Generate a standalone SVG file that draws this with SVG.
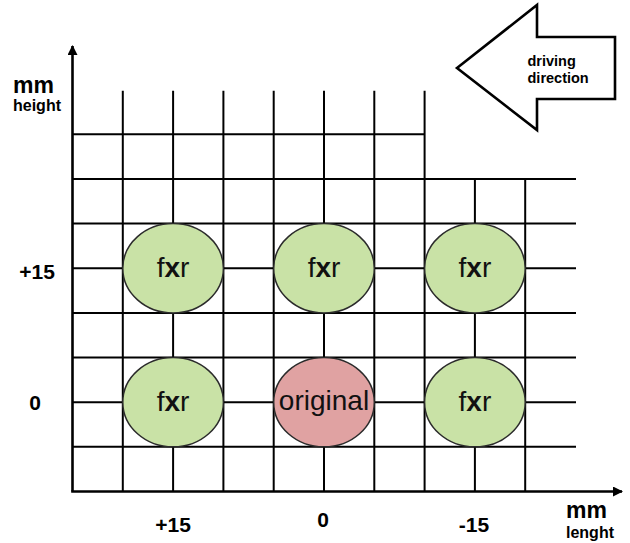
<svg xmlns="http://www.w3.org/2000/svg" width="630" height="543" viewBox="0 0 630 543">
<style>
.grid{stroke:#000;stroke-width:2;fill:none}
.axis{stroke:#000;stroke-width:2.6;fill:none}
.fxr{fill:#c9e2a6;stroke:#2b2b2b;stroke-width:1.5}
.orig{fill:#e0a2a2;stroke:#2b2b2b;stroke-width:1.5}
.nl{font-family:"Liberation Sans",Arial,sans-serif;font-size:28px;fill:#111;text-anchor:middle}
.lb{font-family:"Liberation Sans",Arial,sans-serif;font-weight:bold;fill:#000}
</style>
<defs>
<marker id="ah" markerWidth="10" markerHeight="10" refX="9" refY="5" orient="auto" markerUnits="userSpaceOnUse">
<path d="M0,0 L10,5 L0,10 Z" fill="#000"/>
</marker>
</defs>
<rect width="630" height="543" fill="#fff"/>
<g id="connectors">
<g id="grid" class="grid">
<line x1="72.5" y1="134.3" x2="424.6" y2="134.3"/>
<line x1="72.5" y1="178.95" x2="576" y2="178.95"/>
<line x1="72.5" y1="223.6" x2="576" y2="223.6"/>
<line x1="72.5" y1="268.25" x2="576" y2="268.25"/>
<line x1="72.5" y1="312.9" x2="576" y2="312.9"/>
<line x1="72.5" y1="357.55" x2="576" y2="357.55"/>
<line x1="72.5" y1="402.2" x2="576" y2="402.2"/>
<line x1="72.5" y1="446.85" x2="576" y2="446.85"/>
<line x1="122.8" y1="90.7" x2="122.8" y2="491.5"/>
<line x1="173.1" y1="90.7" x2="173.1" y2="491.5"/>
<line x1="223.4" y1="90.7" x2="223.4" y2="491.5"/>
<line x1="273.7" y1="90.7" x2="273.7" y2="491.5"/>
<line x1="324" y1="90.7" x2="324" y2="491.5"/>
<line x1="374.3" y1="90.7" x2="374.3" y2="491.5"/>
<line x1="424.6" y1="90.7" x2="424.6" y2="491.5"/>
<line x1="474.9" y1="178.95" x2="474.9" y2="491.5"/>
<line x1="525.2" y1="178.95" x2="525.2" y2="491.5"/>
</g>
<line id="y-axis" class="axis" x1="72.5" y1="491.5" x2="72.5" y2="46" marker-end="url(#ah)"/>
<line id="x-axis" class="axis" x1="71.2" y1="491.5" x2="622" y2="491.5" marker-end="url(#ah)"/>
</g>
<g id="node-fxr-1"><ellipse class="fxr" cx="173.1" cy="268.25" rx="50.3" ry="44.65"/><text class="nl" x="173.1" y="276.5">f<tspan font-weight="bold">x</tspan>r</text></g>
<g id="node-fxr-2"><ellipse class="fxr" cx="324" cy="268.25" rx="50.3" ry="44.65"/><text class="nl" x="324" y="276.5">f<tspan font-weight="bold">x</tspan>r</text></g>
<g id="node-fxr-3"><ellipse class="fxr" cx="474.9" cy="268.25" rx="50.3" ry="44.65"/><text class="nl" x="474.9" y="276.5">f<tspan font-weight="bold">x</tspan>r</text></g>
<g id="node-fxr-4"><ellipse class="fxr" cx="173.1" cy="402.2" rx="50.3" ry="44.65"/><text class="nl" x="173.1" y="410.5">f<tspan font-weight="bold">x</tspan>r</text></g>
<g id="node-original"><ellipse class="orig" cx="324" cy="402.2" rx="50.3" ry="44.65"/><text class="nl" x="324" y="410">original</text></g>
<g id="node-fxr-5"><ellipse class="fxr" cx="474.9" cy="402.2" rx="50.3" ry="44.65"/><text class="nl" x="474.9" y="410.5">f<tspan font-weight="bold">x</tspan>r</text></g>
<g id="driving-direction">
<polygon points="457,68 537,5 537,37 615,37 615,99 537,99 537,130" fill="#fff" stroke="#000" stroke-width="2.6" stroke-linejoin="miter"/>
<text class="lb" font-size="14.5" x="527.5" y="65.5">driving</text>
<text class="lb" font-size="14.5" x="527.5" y="82.5">direction</text>
</g>
<g id="axis-labels">
<text class="lb" font-size="23" x="13" y="93">mm</text>
<text class="lb" font-size="16" x="13" y="111">height</text>
<text class="lb" font-size="21" x="37" y="279" text-anchor="middle">+15</text>
<text class="lb" font-size="21" x="35" y="410" text-anchor="middle">0</text>
<text class="lb" font-size="21" x="173" y="531.5" text-anchor="middle">+15</text>
<text class="lb" font-size="21" x="323" y="527" text-anchor="middle">0</text>
<text class="lb" font-size="21" x="474" y="531.5" text-anchor="middle">-15</text>
<text class="lb" font-size="23" x="566" y="518">mm</text>
<text class="lb" font-size="16" x="566" y="538">lenght</text>
</g>
</svg>
